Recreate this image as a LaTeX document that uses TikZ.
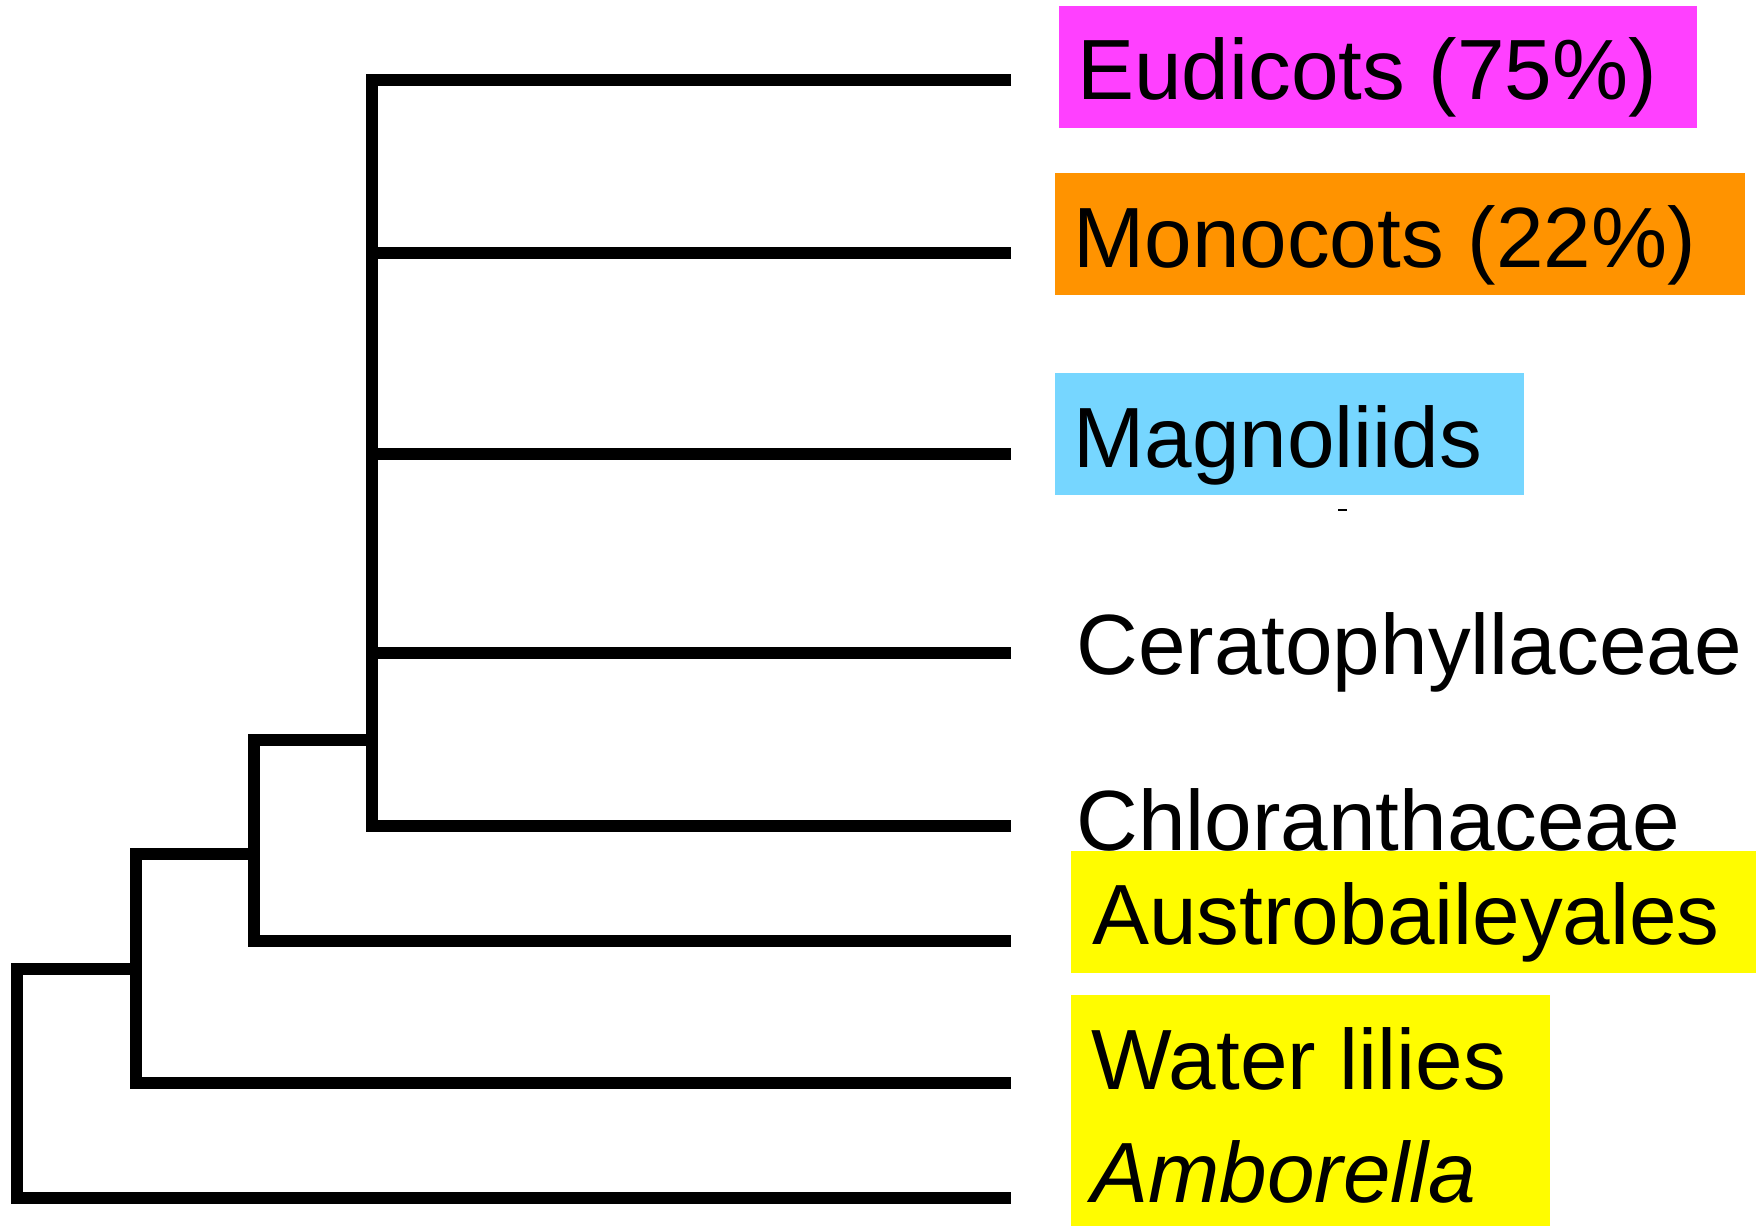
\documentclass[tikz,border=0pt]{standalone}
\usepackage{fontspec}
\setmainfont{Liberation Sans}
\definecolor{eudc}{RGB}{255,64,255}
\definecolor{monoc}{RGB}{255,147,0}
\definecolor{magc}{RGB}{118,214,255}
\definecolor{ylw}{RGB}{255,252,0}
\begin{document}
\begin{tikzpicture}[x=0.5pt,y=-0.5pt,
  branch/.style={line width=5.75pt,line join=miter,line cap=butt},
  taxon/.style={anchor=base west,inner sep=0pt,font=\fontsize{42.75}{50}\selectfont}]
\useasboundingbox (0,0) rectangle (1756,1226);
% coloured label boxes
\fill[eudc] (1059,6) rectangle (1697,128);
\fill[monoc] (1055,173) rectangle (1745,295);
\fill[magc] (1055,373) rectangle (1524,495);
% leaf ends
\coordinate (eE) at (1011,80);
\coordinate (mE) at (1011,253);
\coordinate (gE) at (1011,454);
\coordinate (cE) at (1011,653);
\coordinate (hE) at (1011,826);
\coordinate (aE) at (1011,941);
\coordinate (wE) at (1011,1083);
\coordinate (bE) at (1011,1198);
% internal nodes
\coordinate (n4t) at (372,80);
\coordinate (n4b) at (372,826);
\coordinate (n4j) at (372,740);
\coordinate (n3t) at (254,740);
\coordinate (n3b) at (254,941);
\coordinate (n3j) at (254,854);
\coordinate (n2t) at (136,854);
\coordinate (n2b) at (136,1083);
\coordinate (n2j) at (136,969);
\coordinate (n1t) at (17,969);
\coordinate (n1b) at (17,1198);
% tree
\draw[branch] (eE) -- (n4t) -- (n4b) -- (hE);
\draw[branch] (372,253) -- (mE);
\draw[branch] (372,454) -- (gE);
\draw[branch] (372,653) -- (cE);
\draw[branch] (n4j) -- (n3t) -- (n3b) -- (aE);
\draw[branch] (n3j) -- (n2t) -- (n2b) -- (wE);
\draw[branch] (n2j) -- (n1t) -- (n1b) -- (bE);
% labels
\node[taxon] (eud) at (1077,99) {Eudicots (75\%)};
\node[taxon] (mon) at (1073,267) {Monocots (22\%)};
\node[taxon] (mag) at (1073,467) {Magnoliids};
\node[taxon] (cer) at (1076,674) {Ceratophyllaceae};
\node[taxon] (chl) at (1076,850) {Chloranthaceae};
\fill[ylw] (1071,851) rectangle (1756,973);
\fill[ylw] (1071,995) rectangle (1550,1226);
\node[taxon] (aus) at (1092,944) {Austrobaileyales};
\node[taxon] (wat) at (1091,1089) {Water lilies};
\node[taxon] (amb) at (1091,1202) {\itshape Amborella};
\draw[line width=0.6pt] (1338,510) -- (1347,510);
\end{tikzpicture}
\end{document}
